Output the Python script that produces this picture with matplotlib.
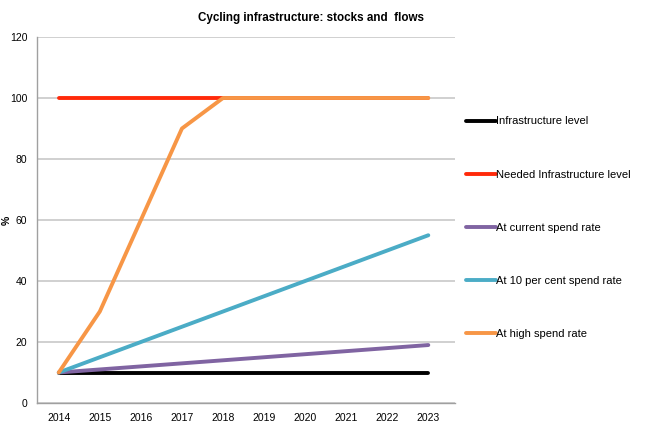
import matplotlib
matplotlib.use("Agg")
import matplotlib.pyplot as plt

years = [2014, 2015, 2016, 2017, 2018, 2019, 2020, 2021, 2022, 2023]
infrastructure = [10, 10, 10, 10, 10, 10, 10, 10, 10, 10]
needed = [100, 100, 100, 100, 100, 100, 100, 100, 100, 100]
current_rate = [10, 11, 12, 13, 14, 15, 16, 17, 18, 19]
ten_pct_rate = [10, 15, 20, 25, 30, 35, 40, 45, 50, 55]
high_rate = [10, 30, 60, 90, 100, 100, 100, 100, 100, 100]

labels = ["Infrastructure level", "Needed Infrastructure level",
          "At current spend rate", "At 10 per cent spend rate", "At high spend rate"]
colors = ["#000000", "#ff2a0a", "#8064a2", "#4bacc6", "#f79646"]
series = [infrastructure, needed, current_rate, ten_pct_rate, high_rate]

plt.rcParams['font.family'] = ['Liberation Sans', 'DejaVu Sans']

fig = plt.figure(figsize=(6.5, 4.32), dpi=100)
ax = fig.add_axes([37/650, 1 - 403/432, (455 - 37)/650, (403 - 37)/432])

xs = list(range(len(years)))
handles = []
for vals, c, lab in zip(series, colors, labels):
    h, = ax.plot(xs, vals, color=c, lw=2.8, solid_capstyle='round', label=lab)
    handles.append(h)

ax.set_xlim(-0.53, len(years) - 1 + 0.65)
ax.set_ylim(0, 120)
ax.set_yticks(range(0, 121, 20))
ax.set_xticks(xs)
ax.set_xticklabels([str(y) for y in years])
ax.yaxis.grid(True, color="#c8c8c8", lw=1.2)
ax.set_axisbelow(True)
for s in ["top", "right"]:
    ax.spines[s].set_visible(False)
for s in ["left", "bottom"]:
    ax.spines[s].set_color("#a0a0a0")
    ax.spines[s].set_linewidth(1.0)
ax.tick_params(length=0, labelsize=7.5, pad=7)
ax.set_ylabel("%", fontsize=7.5, fontweight="bold")
ax.yaxis.set_label_coords(-0.06, 0.5)

fig.text(311/650, 1 - 18/432, "Cycling infrastructure: stocks and  flows",
         ha="center", va="center", fontsize=8.4, fontweight="bold")

leg = fig.legend(handles=handles, labels=labels, loc="upper left",
                 bbox_to_anchor=(462/650, 1 - 112/432), frameon=False,
                 fontsize=8, handlelength=2.7, handletextpad=0.0,
                 labelspacing=3.88, borderaxespad=0)

fig.savefig("out.png", dpi=100)
